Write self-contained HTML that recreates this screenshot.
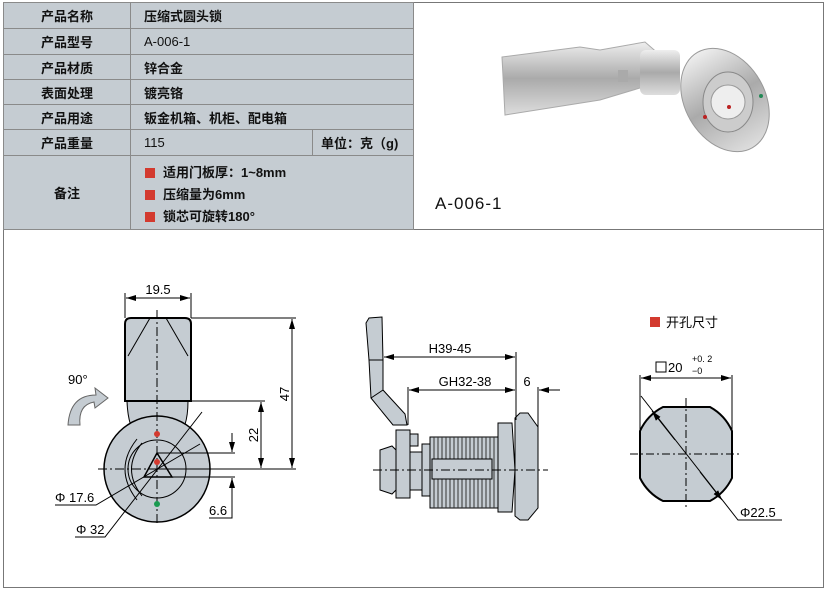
<!DOCTYPE html>
<html><head><meta charset="utf-8"><style>
body{margin:0;width:828px;height:593px;background:#fff;position:relative;overflow:hidden;font-family:"Liberation Sans","Noto Sans CJK SC",sans-serif}
.c{position:absolute;background:#c5ccd2;border:1px solid #8a8a8a;box-sizing:border-box;font-size:13px;font-weight:bold;color:#111;display:flex;align-items:center}
.l{justify-content:center}
.v{padding-left:13px}
.sq{display:inline-block;width:10px;height:10px;background:#d33a2f;margin-right:8px;vertical-align:-1px}
</style></head><body>
<div style="position:absolute;left:3px;top:2px;width:821px;height:586px;border:1px solid #777;box-sizing:border-box"></div>
<div style="position:absolute;left:3px;top:229px;width:821px;height:1px;background:#777"></div>
<div class="c l" style="left:3px;top:2px;width:128px;height:27px">产品名称</div>
<div class="c v" style="left:130px;top:2px;width:284px;height:27px">压缩式圆头锁</div>
<div class="c l" style="left:3px;top:28px;width:128px;height:27px">产品型号</div>
<div class="c v" style="left:130px;top:28px;width:284px;height:27px;font-weight:normal">A-006-1</div>
<div class="c l" style="left:3px;top:54px;width:128px;height:26px">产品材质</div>
<div class="c v" style="left:130px;top:54px;width:284px;height:26px">锌合金</div>
<div class="c l" style="left:3px;top:79px;width:128px;height:26px">表面处理</div>
<div class="c v" style="left:130px;top:79px;width:284px;height:26px">镀亮铬</div>
<div class="c l" style="left:3px;top:104px;width:128px;height:26px">产品用途</div>
<div class="c v" style="left:130px;top:104px;width:284px;height:26px">钣金机箱、机柜、配电箱</div>
<div class="c l" style="left:3px;top:129px;width:128px;height:27px">产品重量</div>
<div class="c v" style="left:130px;top:129px;width:183px;height:27px;font-weight:normal">115</div>
<div class="c v" style="left:312px;top:129px;width:102px;height:27px;padding-left:8px">单位：克（g)</div>
<div class="c l" style="left:3px;top:155px;width:128px;height:75px">备注</div>
<div class="c" style="left:130px;top:155px;width:284px;height:75px;display:block;padding:6px 0 0 14px;line-height:22px">
<div><span class="sq"></span>适用门板厚：1~8mm</div>
<div><span class="sq"></span>压缩量为6mm</div>
<div><span class="sq"></span>锁芯可旋转180°</div>
</div>
<div style="position:absolute;left:435px;top:194px;font-size:17px;color:#111;letter-spacing:1px">A-006-1</div>
<svg width="828" height="593" style="position:absolute;left:0;top:0" font-family="Liberation Sans,sans-serif">
<defs>
<linearGradient id="m" x1="0" y1="0" x2="0" y2="1"><stop offset="0" stop-color="#eee"/><stop offset=".5" stop-color="#aaa"/><stop offset="1" stop-color="#ddd"/></linearGradient>
<marker id="a" viewBox="0 0 10 6" refX="10" refY="3" markerWidth="10" markerHeight="6" orient="auto-start-reverse"><path d="M0,0L10,3L0,6z" fill="#000"/></marker>
</defs>
<g>
<path d="M502,57 L580,47 L600,50 L645,42 L660,55 L650,85 L600,100 L505,115 Z" fill="url(#m)" stroke="#aaa"/>
<rect x="618" y="70" width="10" height="12" fill="#aaa"/>
<rect x="640" y="50" width="40" height="45" fill="url(#m)" rx="6"/>
<ellipse cx="725" cy="100" rx="40" ry="55" fill="url(#m)" stroke="#999" transform="rotate(-30 725 100)"/>
<ellipse cx="728" cy="102" rx="25" ry="30" fill="#ccc" stroke="#888"/>
<circle cx="728" cy="102" r="17" fill="#eee" stroke="#999"/>
<circle cx="705" cy="117" r="2" fill="#b22"/><circle cx="729" cy="107" r="2" fill="#b22"/><circle cx="761" cy="96" r="2" fill="#285"/>
</g>
<g stroke="#000" fill="none" stroke-width="1">
<path d="M127,401 Q128,430 140,440 L175,440 Q188,430 188,401" fill="#c5ccd2"/>
<path d="M125,401 L125,324 Q125,318 131,318 L185,318 Q191,318 191,324 L191,401 Z" fill="#c5ccd2" stroke-width="2"/>
<path d="M128,356 L150,318 M188,356 L166,318" />
<circle cx="157" cy="469" r="53" fill="#c5ccd2" stroke-width="1.5"/>
<circle cx="157" cy="469" r="29" fill="#c5ccd2"/>
<path d="M157,453 L144,477 L172,477 Z" stroke-width="1.5"/>
<path d="M137,439 Q113,469 137,500 M142,443 Q121,469 142,496"/>
<path d="M98,469 H290 M157,310 V525" stroke-dasharray="9,3,2,3"/>
<path d="M125,318 V293 M191,318 V293" />
<path d="M126,298 H190" marker-start="url(#a)" marker-end="url(#a)"/>
<path d="M191,318 H296 M188,401 H265 M157,469 H296"/>
<path d="M292,319 V468" marker-start="url(#a)" marker-end="url(#a)"/>
<path d="M261,402 V468" marker-start="url(#a)" marker-end="url(#a)"/>
<path d="M157,453 H235 M157,477 H235 M232,433 V452 M232,478 V518 H209" />
<path d="M232,440 V452" marker-end="url(#a)"/><path d="M232,490 V478" marker-end="url(#a)"/>
<path d="M55,505 H96 L200,444"/>
<path d="M75,537 H105 L202,412"/>
<path d="M68,425 Q70,395 96,395 L95,388 L108,398 L95,408 L94,402 Q78,405 80,425 Z" fill="#c5ccd2" stroke="#666"/>
<path d="M366,323 L369,318 L382,317 L383,360 L383,390 L405,414 L407,425 L393,425 L371,398 L369,360 Z" fill="#c5ccd2"/>
<path d="M369,360 H383 M371,398 L383,390"/>
<rect x="396" y="430" width="14" height="68" fill="#c5ccd2"/>
<rect x="410" y="434" width="8" height="12" fill="#c5ccd2"/>
<path d="M380,450 L392,446 L396,450 V490 L392,494 L380,490 Z" fill="#c5ccd2"/>
<rect x="410" y="452" width="12" height="38" fill="#c5ccd2"/>
<rect x="422" y="444" width="10" height="52" fill="#c5ccd2"/>
<rect x="430" y="437" width="68" height="71" fill="#c5ccd2"/>
<path d="M434,437 V508 M438,437 V508 M442,437 V508 M446,437 V508 M450,437 V508 M454,437 V508 M458,437 V508 M462,437 V508 M466,437 V508 M470,437 V508 M474,437 V508 M478,437 V508 M482,437 V508 M486,437 V508 M490,437 V508 M494,437 V508" stroke="#333"/>
<rect x="432" y="459" width="60" height="20" fill="#c5ccd2"/>
<path d="M498,423 L512,423 L515,470 L512,512 L498,512 Z" fill="#c5ccd2"/>
<path d="M515,418 L520,413 L528,413 L538,427 V508 L528,520 L520,520 L515,516 Z" fill="#c5ccd2"/>
<path d="M373,470 H548" stroke-dasharray="9,3,2,3"/>
<path d="M384,357 H515" marker-start="url(#a)" marker-end="url(#a)"/>
<path d="M516,352 V420 M408,387 V425 M538,387 V427"/>
<path d="M409,390 H515" marker-start="url(#a)" marker-end="url(#a)"/>
<path d="M560,390 H539" marker-end="url(#a)"/>
<path d="M663,407 L710,407 A51,51 0 0 1 732,431 L732,478 A51,51 0 0 1 710,501 L663,501 A51,51 0 0 1 640,478 L640,431 A51,51 0 0 1 663,407 Z" fill="#c5ccd2" stroke-width="2"/>
<path d="M630,454 H742 M686,398 V510" stroke-dasharray="8,3,2,3"/>
<path d="M640,375 V430 M732,375 V430"/>
<path d="M641,378 H731" marker-start="url(#a)" marker-end="url(#a)"/>
<path d="M641,396 L738,520 H782" />
<path d="M700,472 L722,500" marker-end="url(#a)"/>
<path d="M675,440 L652,411" marker-end="url(#a)"/>
<rect x="656" y="362" width="10" height="10"/>
</g>
<g fill="#d33a2f"><circle cx="157" cy="434" r="3"/><circle cx="157" cy="462" r="3"/><rect x="650" y="317" width="10" height="10"/></g>
<circle cx="157" cy="504" r="3" fill="#1a9a50"/>
<g font-size="13" fill="#000">
<text x="158" y="294" text-anchor="middle">19.5</text>
<text transform="translate(289,394) rotate(-90)" text-anchor="middle">47</text>
<text transform="translate(258,435) rotate(-90)" text-anchor="middle">22</text>
<text x="209" y="515">6.6</text>
<text x="68" y="384">90°</text>
<text x="55" y="502">Φ 17.6</text>
<text x="76" y="534">Φ 32</text>
<text x="450" y="353" text-anchor="middle">H39-45</text>
<text x="465" y="386" text-anchor="middle">GH32-38</text>
<text x="527" y="386" text-anchor="middle">6</text>
<text x="668" y="372">20</text>
<text x="692" y="362" font-size="9">+0. 2</text>
<text x="692" y="374" font-size="9">−0</text>
<text x="740" y="517">Φ22.5</text>
<text x="666" y="327" font-family="Liberation Sans,Noto Sans CJK SC,sans-serif">开孔尺寸</text>
</g>
</svg>
</body></html>
